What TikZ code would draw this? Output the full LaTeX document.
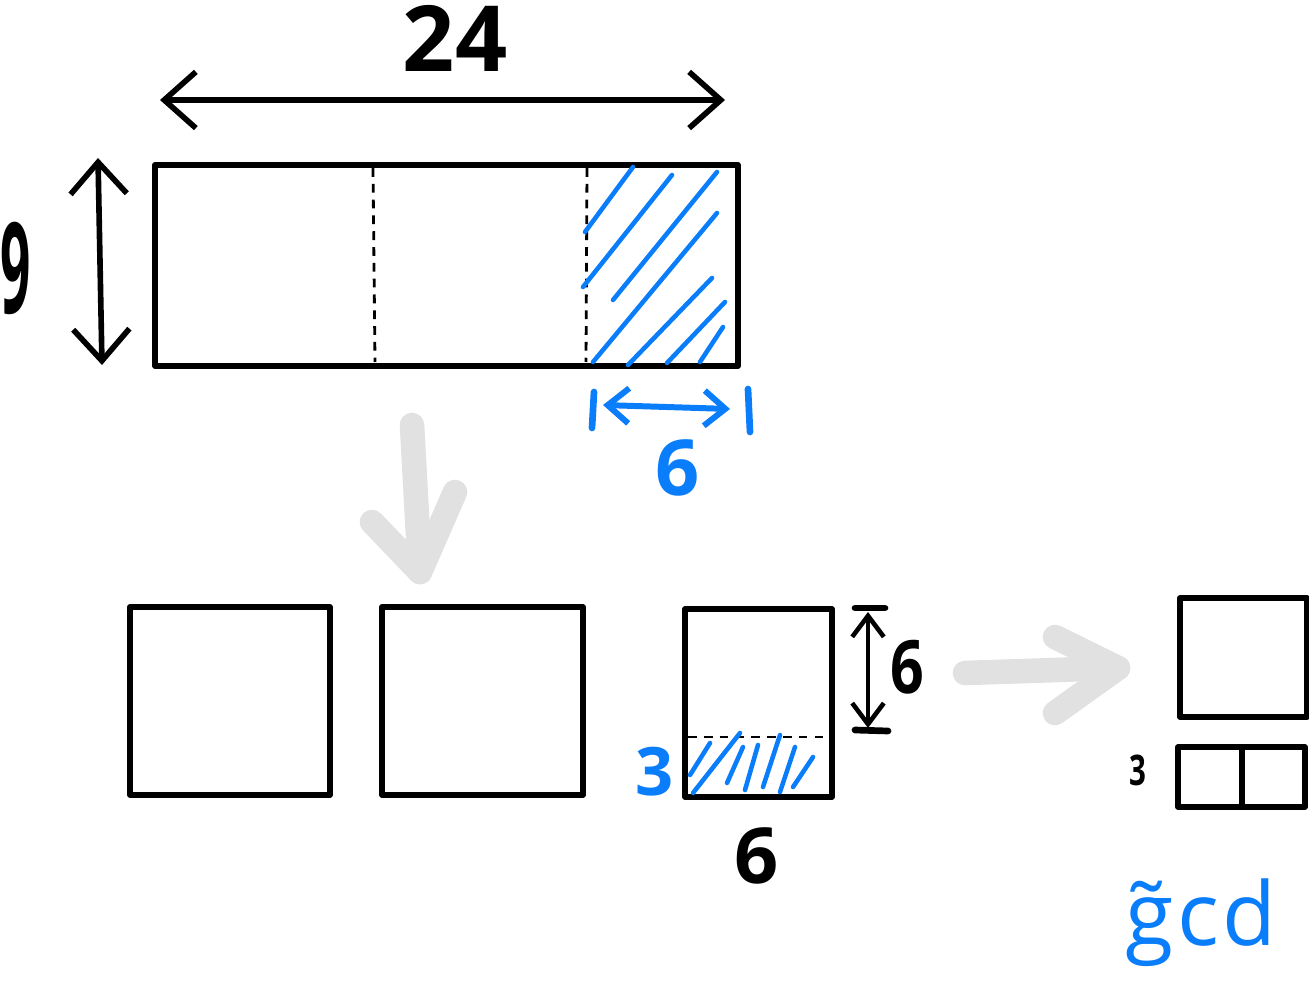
\documentclass[tikz,border=0pt]{standalone}
\usepackage{fontspec}
\setmainfont{Open Sans}
\usetikzlibrary{arrows.meta}
\definecolor{pen}{RGB}{10,125,250}
\definecolor{ghost}{RGB}{225,225,225}
\begin{document}
\begin{tikzpicture}[x=0.02cm,y=-0.02cm,
  box/.style={line width=3.3pt, line join=round},
  cut/.style={line width=1.6pt, dash pattern=on 5pt off 4pt},
  hatch/.style={pen, line width=2.6pt, line cap=round},
  bigdim/.style={line width=3.2pt, line cap=round, line join=round, {Straight Barb[length=18pt,width=32pt]}-{Straight Barb[length=18pt,width=32pt]}},
  smalldim/.style={line width=2.6pt, line cap=round, line join=round, {Straight Barb[length=12pt,width=18pt]}-{Straight Barb[length=12pt,width=18pt]}},
  bluedim/.style={pen, line width=3.4pt, line cap=round, line join=round, {Straight Barb[length=12pt,width=20pt]}-{Straight Barb[length=12pt,width=20pt]}},
  tick/.style={line width=3.8pt, line cap=round},
  flow/.style={ghost, line width=14pt, line cap=round, line join=round},
  lbl/.style={inner sep=0pt, font=\bfseries}
]
\useasboundingbox (0,0) rectangle (1309,1000);

% ---------- top rectangle 24 x 9 ----------
\draw[box] (155,165) rectangle (738,366);
\draw[cut] (373,168) -- (375,362);
\draw[cut] (587,168) -- (586,362);
% blue hatching
\draw[hatch] (585,232) -- (633,167);
\draw[hatch] (583,287) -- (672,175);
\draw[hatch] (613,300) -- (717,172);
\draw[hatch] (593,362) -- (717,213);
\draw[hatch] (628,365) -- (712,278);
\draw[hatch] (667,363) -- (725,302);
\draw[hatch] (700,362) -- (723,327);

% width arrow 24
\coordinate (wl) at (160,100);
\coordinate (wr) at (725,100);
\draw[bigdim] (wl) -- (wr);
\node[lbl, font=\bfseries\fontsize{52}{52}\selectfont] (w24) at (455,38) {24};

% height arrow 9
\coordinate (ht) at (98,158);
\coordinate (hb) at (102,365);
\draw[bigdim] (ht) -- (hb);
\node[lbl, font=\bfseries\fontsize{72}{72}\selectfont] (h9) at (16,268) {\scalebox{0.42}[1]{9}};

% blue 6 below
\coordinate (bl) at (603,405);
\coordinate (br) at (730,409);
\draw[bluedim] (bl) -- (br);
\coordinate (bt1a) at (594,392); \coordinate (bt1b) at (592,428);
\coordinate (bt2a) at (748,389); \coordinate (bt2b) at (750,432);
\draw[tick, pen] (bt1a) -- (bt1b);
\draw[tick, pen] (bt2a) -- (bt2b);
\node[lbl, pen, font=\bfseries\fontsize{44}{44}\selectfont] (b6) at (678,468) {6};

% ---------- gray down arrow ----------
\coordinate (d0) at (412,425);
\coordinate (d1) at (420,572);
\coordinate (da) at (372,522);
\coordinate (db) at (455,492);
\draw[flow] (d0) -- (d1);
\draw[flow] (da) -- (d1) -- (db);

% ---------- bottom row ----------
\draw[box] (130,607) rectangle (330,795);
\draw[box] (382,607) rectangle (583,795);
\draw[box] (685,609) rectangle (832,797);
\draw[cut] (688,737) -- (829,737);
% blue hatching in strip
\draw[hatch] (690,775) -- (710,743);
\draw[hatch] (693,793) -- (740,733);
\draw[hatch] (727,783) -- (743,747);
\draw[hatch] (745,790) -- (758,745);
\draw[hatch] (763,787) -- (780,735);
\draw[hatch] (780,792) -- (795,747);
\draw[hatch] (793,787) -- (813,757);

\node[lbl, pen, font=\bfseries\fontsize{38}{38}\selectfont] (s3) at (655,772) {3};
\node[lbl, font=\bfseries\fontsize{44}{44}\selectfont] (s6b) at (757,856) {6};

% height 6 arrow
\coordinate (vt) at (868,612);
\coordinate (vb) at (868,728);
\draw[smalldim] (vt) -- (vb);
\coordinate (vt1) at (855,608); \coordinate (vt2) at (885,608);
\coordinate (vb1) at (855,730); \coordinate (vb2) at (888,731);
\draw[tick] (vt1) -- (vt2);
\draw[tick] (vb1) -- (vb2);
\node[lbl, font=\bfseries\fontsize{42}{42}\selectfont] (s6r) at (907,667) {\scalebox{0.8}[1]{6}};

% ---------- gray right arrow ----------
\coordinate (r0) at (965,673);
\coordinate (r1) at (1118,668);
\coordinate (ra) at (1055,637);
\coordinate (rb) at (1055,713);
\draw[flow] (r0) -- (r1);
\draw[flow] (ra) -- (r1) -- (rb);

% ---------- result ----------
\draw[box] (1180,598) rectangle (1307,717);
\draw[box] (1178,747) rectangle (1305,807);
\draw[box] (1242,747) -- (1242,807);
\node[lbl, font=\bfseries\fontsize{24}{24}\selectfont] (r3) at (1138,770) {\scalebox{0.7}[1]{3}};
\node[lbl, pen, font=\fontsize{50}{50}\selectfont, anchor=base west] (gcd) at (1125,945) {\~{g}\kern2pt c\kern2pt d};
\end{tikzpicture}
\end{document}
